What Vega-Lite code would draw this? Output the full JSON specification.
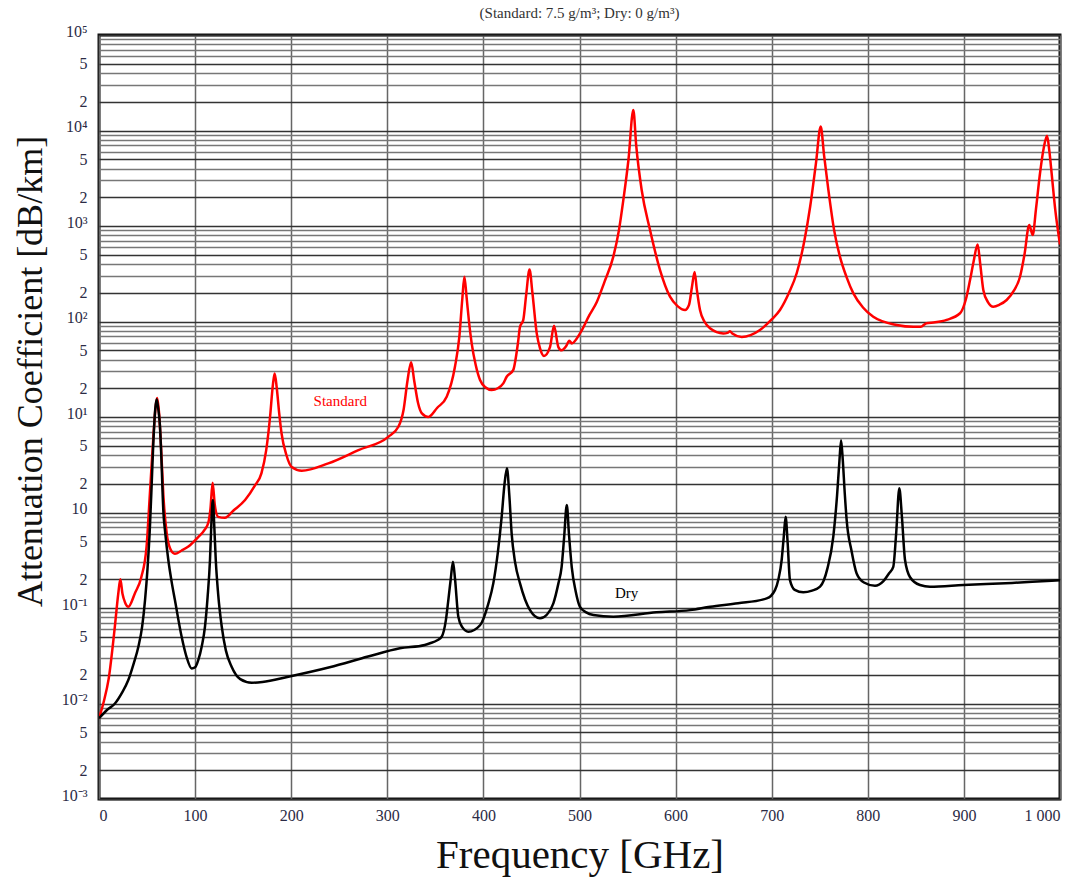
{
  "$schema": "https://vega.github.io/schema/vega-lite/v6.json",
  "width": 961,
  "height": 764,
  "autosize": "none",
  "padding": {"left": 99, "top": 35, "right": 23, "bottom": 84},
  "background": "white",
  "config": {
    "view": {"stroke": "#111111", "strokeWidth": 3},
    "font": "Liberation Serif"
  },
  "title": {
    "text": "(Standard: 7.5 g/m³; Dry: 0 g/m³)",
    "font": "Liberation Serif",
    "fontSize": 15,
    "fontWeight": "normal",
    "color": "#333333",
    "offset": 2,
    "anchor": "middle"
  },
  "datasets": {
    "curves": [
      {"s": "Standard", "f": 0, "v": 0.007},
      {"s": "Standard", "f": 5, "v": 0.0105},
      {"s": "Standard", "f": 10, "v": 0.018},
      {"s": "Standard", "f": 16.5, "v": 0.064},
      {"s": "Standard", "f": 20, "v": 0.14},
      {"s": "Standard", "f": 22.2, "v": 0.2},
      {"s": "Standard", "f": 24.5, "v": 0.14},
      {"s": "Standard", "f": 27, "v": 0.115},
      {"s": "Standard", "f": 30.5, "v": 0.103},
      {"s": "Standard", "f": 37.5, "v": 0.144},
      {"s": "Standard", "f": 44, "v": 0.21},
      {"s": "Standard", "f": 49.5, "v": 0.44},
      {"s": "Standard", "f": 53, "v": 1.6},
      {"s": "Standard", "f": 56.5, "v": 6},
      {"s": "Standard", "f": 59, "v": 13},
      {"s": "Standard", "f": 60.5, "v": 15.8},
      {"s": "Standard", "f": 62.5, "v": 11},
      {"s": "Standard", "f": 64.5, "v": 5},
      {"s": "Standard", "f": 67, "v": 1.5},
      {"s": "Standard", "f": 70.5, "v": 0.6},
      {"s": "Standard", "f": 74, "v": 0.42},
      {"s": "Standard", "f": 79, "v": 0.37},
      {"s": "Standard", "f": 86, "v": 0.4},
      {"s": "Standard", "f": 93, "v": 0.44},
      {"s": "Standard", "f": 103, "v": 0.55},
      {"s": "Standard", "f": 110, "v": 0.66},
      {"s": "Standard", "f": 114, "v": 0.8},
      {"s": "Standard", "f": 116, "v": 1.1},
      {"s": "Standard", "f": 118.2, "v": 2.05},
      {"s": "Standard", "f": 120.5, "v": 1.2},
      {"s": "Standard", "f": 124, "v": 0.9},
      {"s": "Standard", "f": 131, "v": 0.88},
      {"s": "Standard", "f": 140, "v": 1.05},
      {"s": "Standard", "f": 152, "v": 1.35},
      {"s": "Standard", "f": 162, "v": 1.9},
      {"s": "Standard", "f": 169, "v": 2.57},
      {"s": "Standard", "f": 174, "v": 4.5},
      {"s": "Standard", "f": 178, "v": 10},
      {"s": "Standard", "f": 181, "v": 22},
      {"s": "Standard", "f": 182.8, "v": 28.5},
      {"s": "Standard", "f": 185, "v": 20},
      {"s": "Standard", "f": 187.5, "v": 11},
      {"s": "Standard", "f": 190, "v": 6.7},
      {"s": "Standard", "f": 195, "v": 4},
      {"s": "Standard", "f": 200.5, "v": 3.0},
      {"s": "Standard", "f": 211, "v": 2.74},
      {"s": "Standard", "f": 238.6, "v": 3.27},
      {"s": "Standard", "f": 270, "v": 4.5},
      {"s": "Standard", "f": 301, "v": 6.2},
      {"s": "Standard", "f": 311.5, "v": 7.9},
      {"s": "Standard", "f": 317, "v": 12},
      {"s": "Standard", "f": 321, "v": 24},
      {"s": "Standard", "f": 324.8, "v": 37.5},
      {"s": "Standard", "f": 328, "v": 24},
      {"s": "Standard", "f": 332, "v": 14},
      {"s": "Standard", "f": 336, "v": 10.9},
      {"s": "Standard", "f": 342.7, "v": 10},
      {"s": "Standard", "f": 352, "v": 12.5},
      {"s": "Standard", "f": 361.8, "v": 16.3},
      {"s": "Standard", "f": 370.4, "v": 33.6},
      {"s": "Standard", "f": 375, "v": 70},
      {"s": "Standard", "f": 378, "v": 170},
      {"s": "Standard", "f": 380.2, "v": 294},
      {"s": "Standard", "f": 382.5, "v": 180},
      {"s": "Standard", "f": 385, "v": 100},
      {"s": "Standard", "f": 387.8, "v": 59},
      {"s": "Standard", "f": 392, "v": 35},
      {"s": "Standard", "f": 396.5, "v": 24.4},
      {"s": "Standard", "f": 402, "v": 20.5},
      {"s": "Standard", "f": 408.6, "v": 19.2},
      {"s": "Standard", "f": 415, "v": 20},
      {"s": "Standard", "f": 420.7, "v": 22.5},
      {"s": "Standard", "f": 424.2, "v": 26.4},
      {"s": "Standard", "f": 431, "v": 31},
      {"s": "Standard", "f": 436, "v": 60},
      {"s": "Standard", "f": 438.1, "v": 88},
      {"s": "Standard", "f": 441.5, "v": 104},
      {"s": "Standard", "f": 444.5, "v": 190},
      {"s": "Standard", "f": 448, "v": 350},
      {"s": "Standard", "f": 451, "v": 200},
      {"s": "Standard", "f": 455.5, "v": 75},
      {"s": "Standard", "f": 459, "v": 52},
      {"s": "Standard", "f": 463, "v": 43.6},
      {"s": "Standard", "f": 469.3, "v": 54},
      {"s": "Standard", "f": 473.5, "v": 90},
      {"s": "Standard", "f": 478, "v": 54},
      {"s": "Standard", "f": 481.4, "v": 50},
      {"s": "Standard", "f": 486, "v": 55},
      {"s": "Standard", "f": 489.4, "v": 63},
      {"s": "Standard", "f": 492, "v": 59},
      {"s": "Standard", "f": 500.5, "v": 75},
      {"s": "Standard", "f": 510, "v": 115},
      {"s": "Standard", "f": 518, "v": 160},
      {"s": "Standard", "f": 526, "v": 260},
      {"s": "Standard", "f": 535.2, "v": 478},
      {"s": "Standard", "f": 541, "v": 900},
      {"s": "Standard", "f": 545.6, "v": 1870},
      {"s": "Standard", "f": 551, "v": 5000},
      {"s": "Standard", "f": 556, "v": 16400},
      {"s": "Standard", "f": 559, "v": 7000},
      {"s": "Standard", "f": 564.7, "v": 2380},
      {"s": "Standard", "f": 573.4, "v": 908},
      {"s": "Standard", "f": 583.8, "v": 346},
      {"s": "Standard", "f": 594.2, "v": 182},
      {"s": "Standard", "f": 602, "v": 145},
      {"s": "Standard", "f": 609.8, "v": 132},
      {"s": "Standard", "f": 614, "v": 150},
      {"s": "Standard", "f": 617, "v": 230},
      {"s": "Standard", "f": 619.8, "v": 330},
      {"s": "Standard", "f": 622, "v": 220},
      {"s": "Standard", "f": 625.4, "v": 132},
      {"s": "Standard", "f": 630, "v": 100},
      {"s": "Standard", "f": 635.8, "v": 85},
      {"s": "Standard", "f": 649.7, "v": 75},
      {"s": "Standard", "f": 654, "v": 76},
      {"s": "Standard", "f": 656.6, "v": 79},
      {"s": "Standard", "f": 659, "v": 75},
      {"s": "Standard", "f": 668.8, "v": 69},
      {"s": "Standard", "f": 687.8, "v": 81.5},
      {"s": "Standard", "f": 700, "v": 105},
      {"s": "Standard", "f": 708.6, "v": 132},
      {"s": "Standard", "f": 718, "v": 200},
      {"s": "Standard", "f": 726, "v": 320},
      {"s": "Standard", "f": 734, "v": 700},
      {"s": "Standard", "f": 740, "v": 1590},
      {"s": "Standard", "f": 746, "v": 4500},
      {"s": "Standard", "f": 751, "v": 11000},
      {"s": "Standard", "f": 754.5, "v": 5500},
      {"s": "Standard", "f": 759, "v": 2380},
      {"s": "Standard", "f": 765, "v": 900},
      {"s": "Standard", "f": 771, "v": 478},
      {"s": "Standard", "f": 778, "v": 290},
      {"s": "Standard", "f": 785, "v": 197},
      {"s": "Standard", "f": 795, "v": 140},
      {"s": "Standard", "f": 805.7, "v": 112},
      {"s": "Standard", "f": 830, "v": 92},
      {"s": "Standard", "f": 847.4, "v": 88},
      {"s": "Standard", "f": 855, "v": 88},
      {"s": "Standard", "f": 861, "v": 96},
      {"s": "Standard", "f": 870, "v": 98},
      {"s": "Standard", "f": 882, "v": 104},
      {"s": "Standard", "f": 896, "v": 122},
      {"s": "Standard", "f": 902, "v": 170},
      {"s": "Standard", "f": 906.4, "v": 272},
      {"s": "Standard", "f": 910, "v": 420},
      {"s": "Standard", "f": 914.3, "v": 640},
      {"s": "Standard", "f": 917, "v": 400},
      {"s": "Standard", "f": 920.2, "v": 214},
      {"s": "Standard", "f": 925, "v": 160},
      {"s": "Standard", "f": 930.6, "v": 143},
      {"s": "Standard", "f": 937, "v": 150},
      {"s": "Standard", "f": 944.5, "v": 168},
      {"s": "Standard", "f": 952, "v": 210},
      {"s": "Standard", "f": 958.4, "v": 294},
      {"s": "Standard", "f": 963, "v": 500},
      {"s": "Standard", "f": 968, "v": 1023},
      {"s": "Standard", "f": 971.6, "v": 806},
      {"s": "Standard", "f": 975, "v": 1500},
      {"s": "Standard", "f": 979.2, "v": 3565},
      {"s": "Standard", "f": 983, "v": 6500},
      {"s": "Standard", "f": 986.5, "v": 8800},
      {"s": "Standard", "f": 989, "v": 6000},
      {"s": "Standard", "f": 991.3, "v": 3565},
      {"s": "Standard", "f": 995, "v": 1500},
      {"s": "Standard", "f": 1000, "v": 640},
      {"s": "Dry", "f": 0, "v": 0.007},
      {"s": "Dry", "f": 8, "v": 0.0085},
      {"s": "Dry", "f": 16.6, "v": 0.01},
      {"s": "Dry", "f": 24, "v": 0.013},
      {"s": "Dry", "f": 30.5, "v": 0.0176},
      {"s": "Dry", "f": 36, "v": 0.026},
      {"s": "Dry", "f": 40.9, "v": 0.039},
      {"s": "Dry", "f": 45, "v": 0.065},
      {"s": "Dry", "f": 47.9, "v": 0.121},
      {"s": "Dry", "f": 50.5, "v": 0.26},
      {"s": "Dry", "f": 53, "v": 0.71},
      {"s": "Dry", "f": 55, "v": 2.2},
      {"s": "Dry", "f": 56.5, "v": 5.3},
      {"s": "Dry", "f": 58.5, "v": 12},
      {"s": "Dry", "f": 60, "v": 15.3},
      {"s": "Dry", "f": 61.5, "v": 12.5},
      {"s": "Dry", "f": 63.5, "v": 7.9},
      {"s": "Dry", "f": 65, "v": 3.5},
      {"s": "Dry", "f": 66.9, "v": 1.06},
      {"s": "Dry", "f": 69, "v": 0.6},
      {"s": "Dry", "f": 72.1, "v": 0.32},
      {"s": "Dry", "f": 75.5, "v": 0.19},
      {"s": "Dry", "f": 79, "v": 0.121},
      {"s": "Dry", "f": 86, "v": 0.05},
      {"s": "Dry", "f": 91, "v": 0.031},
      {"s": "Dry", "f": 96.4, "v": 0.0233},
      {"s": "Dry", "f": 100, "v": 0.024},
      {"s": "Dry", "f": 103.3, "v": 0.0285},
      {"s": "Dry", "f": 107, "v": 0.04},
      {"s": "Dry", "f": 110.3, "v": 0.064},
      {"s": "Dry", "f": 113, "v": 0.13},
      {"s": "Dry", "f": 115.5, "v": 0.32},
      {"s": "Dry", "f": 117, "v": 0.8},
      {"s": "Dry", "f": 118.5, "v": 1.35},
      {"s": "Dry", "f": 120, "v": 0.7},
      {"s": "Dry", "f": 121.5, "v": 0.32},
      {"s": "Dry", "f": 124, "v": 0.14},
      {"s": "Dry", "f": 127.7, "v": 0.064},
      {"s": "Dry", "f": 132, "v": 0.036},
      {"s": "Dry", "f": 138, "v": 0.0243},
      {"s": "Dry", "f": 147, "v": 0.018},
      {"s": "Dry", "f": 158.9, "v": 0.0165},
      {"s": "Dry", "f": 170, "v": 0.0168},
      {"s": "Dry", "f": 197, "v": 0.0191},
      {"s": "Dry", "f": 240, "v": 0.024},
      {"s": "Dry", "f": 280, "v": 0.031},
      {"s": "Dry", "f": 313, "v": 0.0378},
      {"s": "Dry", "f": 339, "v": 0.041},
      {"s": "Dry", "f": 344.4, "v": 0.0427},
      {"s": "Dry", "f": 352, "v": 0.046},
      {"s": "Dry", "f": 356.6, "v": 0.05},
      {"s": "Dry", "f": 361, "v": 0.075},
      {"s": "Dry", "f": 363.5, "v": 0.121},
      {"s": "Dry", "f": 366, "v": 0.2},
      {"s": "Dry", "f": 368.3, "v": 0.305},
      {"s": "Dry", "f": 370.5, "v": 0.2},
      {"s": "Dry", "f": 373.9, "v": 0.081},
      {"s": "Dry", "f": 378, "v": 0.063},
      {"s": "Dry", "f": 384.3, "v": 0.0565},
      {"s": "Dry", "f": 396.5, "v": 0.066},
      {"s": "Dry", "f": 405, "v": 0.11},
      {"s": "Dry", "f": 410.3, "v": 0.181},
      {"s": "Dry", "f": 415, "v": 0.38},
      {"s": "Dry", "f": 419, "v": 0.9},
      {"s": "Dry", "f": 422, "v": 2},
      {"s": "Dry", "f": 424.5, "v": 2.9},
      {"s": "Dry", "f": 427, "v": 1.5},
      {"s": "Dry", "f": 429.4, "v": 0.6},
      {"s": "Dry", "f": 433, "v": 0.3},
      {"s": "Dry", "f": 438.1, "v": 0.181},
      {"s": "Dry", "f": 448.5, "v": 0.095},
      {"s": "Dry", "f": 458.9, "v": 0.078},
      {"s": "Dry", "f": 466, "v": 0.085},
      {"s": "Dry", "f": 472.8, "v": 0.112},
      {"s": "Dry", "f": 478, "v": 0.18},
      {"s": "Dry", "f": 481.4, "v": 0.27},
      {"s": "Dry", "f": 484, "v": 0.55},
      {"s": "Dry", "f": 486.8, "v": 1.2},
      {"s": "Dry", "f": 489, "v": 0.6},
      {"s": "Dry", "f": 491.9, "v": 0.27},
      {"s": "Dry", "f": 496, "v": 0.15},
      {"s": "Dry", "f": 500.5, "v": 0.103},
      {"s": "Dry", "f": 507, "v": 0.09},
      {"s": "Dry", "f": 514.4, "v": 0.0845},
      {"s": "Dry", "f": 535.2, "v": 0.081},
      {"s": "Dry", "f": 580, "v": 0.09},
      {"s": "Dry", "f": 615, "v": 0.095},
      {"s": "Dry", "f": 636, "v": 0.103},
      {"s": "Dry", "f": 665, "v": 0.112},
      {"s": "Dry", "f": 694.8, "v": 0.126},
      {"s": "Dry", "f": 703.4, "v": 0.154},
      {"s": "Dry", "f": 707, "v": 0.2},
      {"s": "Dry", "f": 710.4, "v": 0.32},
      {"s": "Dry", "f": 712.5, "v": 0.55},
      {"s": "Dry", "f": 714.5, "v": 0.9},
      {"s": "Dry", "f": 716.5, "v": 0.5},
      {"s": "Dry", "f": 719, "v": 0.196},
      {"s": "Dry", "f": 724, "v": 0.155},
      {"s": "Dry", "f": 732.9, "v": 0.146},
      {"s": "Dry", "f": 742, "v": 0.152},
      {"s": "Dry", "f": 750.3, "v": 0.167},
      {"s": "Dry", "f": 758, "v": 0.26},
      {"s": "Dry", "f": 764.1, "v": 0.56},
      {"s": "Dry", "f": 768, "v": 1.5},
      {"s": "Dry", "f": 770.5, "v": 3.5},
      {"s": "Dry", "f": 772.2, "v": 5.7},
      {"s": "Dry", "f": 774, "v": 3.5},
      {"s": "Dry", "f": 776, "v": 1.6},
      {"s": "Dry", "f": 778, "v": 0.834},
      {"s": "Dry", "f": 783, "v": 0.4},
      {"s": "Dry", "f": 788.4, "v": 0.23},
      {"s": "Dry", "f": 796, "v": 0.185},
      {"s": "Dry", "f": 807.5, "v": 0.171},
      {"s": "Dry", "f": 816, "v": 0.19},
      {"s": "Dry", "f": 822, "v": 0.23},
      {"s": "Dry", "f": 826.5, "v": 0.27},
      {"s": "Dry", "f": 829.5, "v": 0.6},
      {"s": "Dry", "f": 832.8, "v": 1.79},
      {"s": "Dry", "f": 835.5, "v": 0.9},
      {"s": "Dry", "f": 838.7, "v": 0.32},
      {"s": "Dry", "f": 844, "v": 0.21},
      {"s": "Dry", "f": 854.3, "v": 0.174},
      {"s": "Dry", "f": 864.7, "v": 0.167},
      {"s": "Dry", "f": 899.4, "v": 0.174},
      {"s": "Dry", "f": 950, "v": 0.183},
      {"s": "Dry", "f": 991.3, "v": 0.193},
      {"s": "Dry", "f": 1000, "v": 0.195}
    ],
    "labels": [
      {"s": "Standard", "f": 251, "v": 14.8, "t": "Standard"},
      {"s": "Dry", "f": 549, "v": 0.143, "t": "Dry"}
    ]
  },
  "layer": [
    {
      "data": {"name": "curves"},
      "mark": {"type": "line", "strokeWidth": 2.5, "interpolate": "monotone", "clip": true},
      "encoding": {
        "x": {
          "field": "f",
          "type": "quantitative",
          "scale": {"domain": [0, 1000], "nice": false, "zero": false},
          "axis": {
            "values": [0, 100, 200, 300, 400, 500, 600, 700, 800, 900, 1000],
            "labelExpr": "datum.value == 1000 ? '1 000' : format(datum.value, 'd')",
            "title": "Frequency [GHz]",
            "titleFont": "Liberation Serif",
            "titleFontSize": 41,
            "titleFontWeight": "normal",
            "titleColor": "#111111",
            "titlePadding": 12,
            "labelFont": "Liberation Serif",
            "labelFontSize": 16,
            "labelColor": "#2b2b45",
            "labelPadding": 8,
            "domain": false,
            "ticks": false,
            "grid": true,
            "gridColor": "#666666",
            "gridWidth": 1.5
          }
        },
        "y": {
          "field": "v",
          "type": "quantitative",
          "scale": {"type": "log", "domain": [0.001, 100000], "nice": false},
          "axis": {
            "values": [0.001, 0.002, 0.003, 0.004, 0.005, 0.006, 0.007, 0.008, 0.009,
                       0.01, 0.02, 0.03, 0.04, 0.05, 0.06, 0.07, 0.08, 0.09,
                       0.1, 0.2, 0.3, 0.4, 0.5, 0.6, 0.7, 0.8, 0.9,
                       1, 2, 3, 4, 5, 6, 7, 8, 9,
                       10, 20, 30, 40, 50, 60, 70, 80, 90,
                       100, 200, 300, 400, 500, 600, 700, 800, 900,
                       1000, 2000, 3000, 4000, 5000, 6000, 7000, 8000, 9000,
                       10000, 20000, 30000, 40000, 50000, 60000, 70000, 80000, 90000,
                       100000],
            "labelExpr": "abs(datum.value/pow(10,floor(log(datum.value)/LN10+1e-6))-1)<0.01 ? ['10⁻³','10⁻²','10⁻¹','10','10¹','10²','10³','10⁴','10⁵'][floor(log(datum.value)/LN10+1e-6)+3] : (abs(datum.value/pow(10,floor(log(datum.value)/LN10+1e-6))-2)<0.01 ? '2' : (abs(datum.value/pow(10,floor(log(datum.value)/LN10+1e-6))-5)<0.01 ? '5' : ''))",
            "labelOffset": {"condition": {"test": "abs(datum.value/pow(10,floor(log(datum.value)/LN10+1e-6))-1)<0.01", "value": -4}, "value": 0},
            "labelFont": "Liberation Serif",
            "labelFontSize": 16,
            "labelColor": "#2b2b45",
            "labelPadding": 12,
            "labelOverlap": false,
            "title": "Attenuation Coefficient [dB/km]",
            "titleFont": "Liberation Serif",
            "titleFontSize": 36,
            "titleFontWeight": "normal",
            "titleColor": "#111111",
            "titlePadding": 12,
            "titleY": 336,
            "domain": false,
            "ticks": false,
            "grid": true,
            "gridColor": {"condition": {"test": "abs(datum.value/pow(10,floor(log(datum.value)/LN10+1e-6))-1)<0.01 || abs(datum.value/pow(10,floor(log(datum.value)/LN10+1e-6))-2)<0.01 || abs(datum.value/pow(10,floor(log(datum.value)/LN10+1e-6))-5)<0.01", "value": "#333333"}, "value": "#777777"},
            "gridWidth": 1.3
          }
        },
        "color": {
          "field": "s",
          "type": "nominal",
          "scale": {"domain": ["Standard", "Dry"], "range": ["#ff0000", "#000000"]},
          "legend": null
        }
      }
    },
    {
      "data": {"name": "labels"},
      "mark": {"type": "text", "font": "Liberation Serif", "fontSize": 15},
      "encoding": {
        "x": {"field": "f", "type": "quantitative"},
        "y": {"field": "v", "type": "quantitative"},
        "text": {"field": "t"},
        "color": {"field": "s", "type": "nominal", "legend": null}
      }
    }
  ]
}
